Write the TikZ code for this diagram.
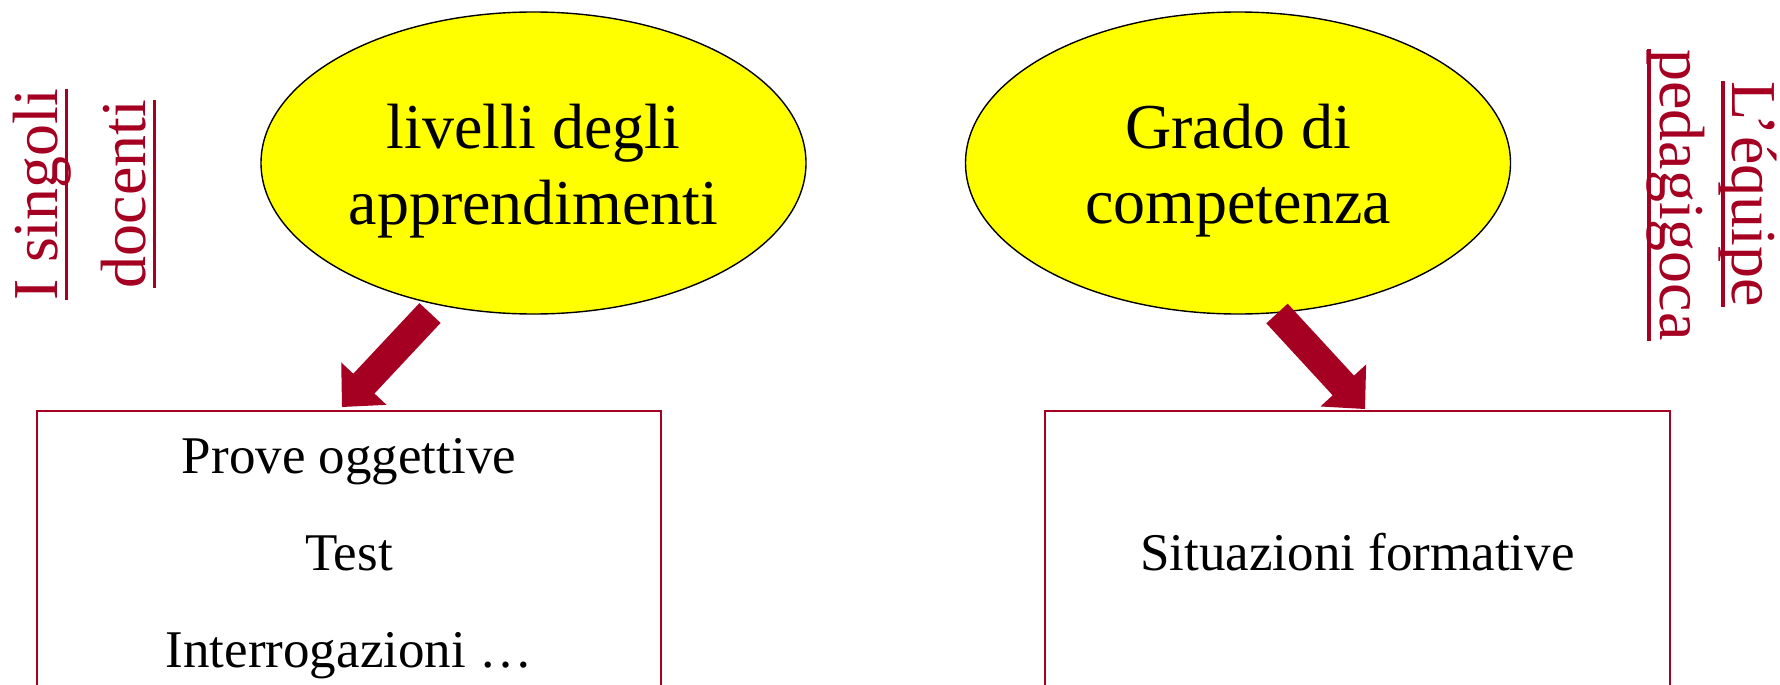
\documentclass[tikz,border=0pt]{standalone}
\usepackage{fontspec}
\setmainfont{Liberation Serif}
\usetikzlibrary{shapes.geometric,calc}
\definecolor{arrowred}{HTML}{A50021}
\definecolor{bubbleyellow}{RGB}{255,255,0}
\newcommand\ulbox[2]{\setbox0\hbox{#2}\rlap{\rule[-#1]{\wd0}{3.5pt}}\box0}
\newcommand\blockarrow[2]{%
  \path ($(#2)!32pt!(#1)$) coordinate (#2h);
  \fill[arrowred] ($(#1)!14.5pt!90:(#2)$) -- ($(#2h)!14.5pt!90:(#2)$) -- ($(#2h)!31pt!90:(#2)$) -- (#2)
     -- ($(#2h)!31pt!-90:(#2)$) -- ($(#2h)!14.5pt!-90:(#2)$) -- ($(#1)!14.5pt!-90:(#2)$) -- cycle;}
\tikzset{
  bubble/.style={ellipse, draw=black, line width=1.4pt, fill=bubbleyellow, minimum width=545pt, minimum height=302pt, inner sep=0pt, outer sep=0pt},
  bigtext/.style={anchor=base, inner sep=0pt, font=\fontsize{64}{76}\selectfont},
  boxtext/.style={anchor=base, inner sep=0pt, font=\fontsize{53}{64}\selectfont},
  sidetext/.style={anchor=base, inner sep=0pt, text=arrowred, font=\fontsize{64}{76}\selectfont},
  listbox/.style={rectangle, draw=arrowred, line width=2pt, minimum width=624pt, minimum height=400pt, inner sep=0pt, outer sep=0pt, anchor=north west}
}
\begin{document}
\begin{tikzpicture}[x=1pt,y=-1pt]
\useasboundingbox (0,0) rectangle (1780,685);
\clip (0,0) rectangle (1780,685);
\fill[white] (0,0) rectangle (1780,685);

% ellipses
\node[bubble] (e1) at (533.5,163) {};
\node[bubble] (e2) at (1238,163) {};
\node[bigtext] (e1a) at ($(e1.center)+(0,-15)$) {livelli degli};
\node[bigtext] (e1b) at ($(e1.center)+(0,61)$) {apprendimenti};
\node[bigtext] (e2a) at ($(e2.center)+(0,-15)$) {Grado di};
\node[bigtext] (e2b) at ($(e2.center)+(0,60)$) {competenza};

% boxes
\node[listbox] (b1) at (37,411) {};
\node[listbox, minimum width=625pt] (b2) at (1045,411) {};
\node[boxtext] (p1) at ($(b1.north)+(0,62)$) {Prove oggettive};
\node[boxtext] (p2) at ($(b1.north)+(0,159)$) {Test};
\node[boxtext] (p3) at ($(b1.north)+(0,256)$) {Interrogazioni …};
\node[boxtext] (s1t) at ($(b2.north)+(0,159)$) {Situazioni formative};

% side labels
\node[sidetext, rotate=90] (l1) at (57,194.5) {\ulbox{11pt}{I singoli}};
\node[sidetext, rotate=90] (l2) at (145,194) {\ulbox{11pt}{docenti}};
\node[sidetext, rotate=-90] (r1) at (1732,194) {\ulbox{11pt}{L’équipe}};
\node[sidetext, rotate=-90] (r2) at (1660,195) {\ulbox{13pt}{pedagigoca}};

% arrows
\coordinate (a1s) at (430,313);
\coordinate (a1t) at (342,407);
\coordinate (a2s) at (1277,313.5);
\coordinate (a2t) at (1365,409);
\blockarrow{a1s}{a1t}
\blockarrow{a2s}{a2t}
\end{tikzpicture}
\end{document}
